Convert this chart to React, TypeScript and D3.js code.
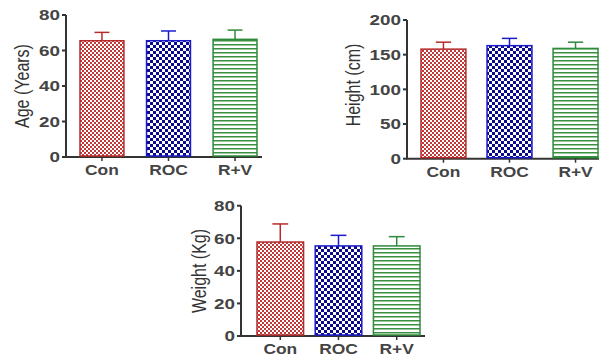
import React from "react";
import * as d3 from "d3";

const categories = ["Con", "ROC", "R+V"];
const ageMeans = [65.5, 65.5, 66.3];
const ageErr = [4.7, 5.5, 5.2];
const heightMeans = [158, 163, 159];
const heightErr = [10, 10.5, 9];
const weightMeans = [57.7, 55.3, 55.3];
const weightErr = [11.1, 6.5, 5.7];
const ageTicks = [0, 20, 40, 60, 80];
const heightTicks = [0, 50, 100, 150, 200];
const weightTicks = [0, 20, 40, 60, 80];

const colors = ["#b52b2b", "#1a1acc", "#2e8b3a"];
const fills = ["url(#patCon)", "url(#patRoc)", "url(#patRv)"];

type PanelProps = {
  x0: number; x1: number; yTop: number; yBot: number; max: number;
  ticks: number[]; means: number[]; errs: number[]; label: string; labelX: number; labelY: number;
  bandStart: number; bandEnd: number; pad: number;
};

function Panel(p: PanelProps) {
  const y = d3.scaleLinear().domain([0, p.max]).range([p.yBot, p.yTop]);
  const x = d3.scaleBand().domain(categories).range([p.bandStart, p.bandEnd]).paddingInner(p.pad).paddingOuter(0);
  const bw = x.bandwidth();
  return (
    <g>
      <line x1={p.x0} x2={p.x0} y1={p.yTop} y2={p.yBot} stroke="#333" strokeWidth={2} />
      <line x1={p.x0 - 1} x2={p.x1} y1={p.yBot} y2={p.yBot} stroke="#333" strokeWidth={2} />
      {p.ticks.map((t) => (
        <g key={t}>
          <line x1={p.x0 - 4} x2={p.x0} y1={y(t)} y2={y(t)} stroke="#333" strokeWidth={2} />
          <text transform={`translate(${p.x0 - 6},${y(t)}) scale(1.3,1)`} dy="0.36em" textAnchor="end" fontSize={14.5} fontWeight="bold" fill="#444">{t}</text>
        </g>
      ))}
      {categories.map((c, i) => {
        const bx = x(c)!;
        const top = y(p.means[i]);
        const et = y(p.means[i] + p.errs[i]);
        const cx = bx + bw / 2;
        return (
          <g key={c}>
            <line x1={cx} x2={cx} y1={top} y2={et} stroke={colors[i]} strokeWidth={1.5} />
            <line x1={cx - bw * 0.17} x2={cx + bw * 0.17} y1={et} y2={et} stroke={colors[i]} strokeWidth={1.5} />
            <rect x={bx} y={top} width={bw} height={p.yBot - 1 - top} fill={fills[i]} stroke={colors[i]} strokeWidth={1.5} />
            <line x1={cx} x2={cx} y1={p.yBot} y2={p.yBot + 4} stroke="#333" strokeWidth={1.5} />
            <text transform={`translate(${cx},${p.yBot + 18}) scale(1.2,1)`} textAnchor="middle" fontSize={14.5} fontWeight="bold" fill="#444">{c}</text>
          </g>
        );
      })}
      <text transform={`translate(${p.labelX},${p.labelY}) scale(1.25,1) rotate(-90)`} textAnchor="middle" fontSize={16} fill="#333">{p.label}</text>
    </g>
  );
}

export default function App() {
  return (
    <svg width={599} height={356} style={{ position: "absolute", left: 0, top: 0, fontFamily: "Liberation Sans, Arial, sans-serif" }}>
      <defs>
        <pattern id="patCon" width={4} height={4} patternUnits="userSpaceOnUse">
          <rect width={4} height={4} fill="#fff" />
          <rect width={2} height={2} fill="#c03838" />
          <rect x={2} y={2} width={2} height={2} fill="#c03838" />
        </pattern>
        <pattern id="patRoc" width={6} height={6} patternUnits="userSpaceOnUse">
          <rect width={6} height={6} fill="#fff" />
          <rect width={3} height={3} fill="#0a0a8a" />
          <rect x={3} y={3} width={3} height={3} fill="#0a0a8a" />
        </pattern>
        <pattern id="patRv" width={4} height={4} patternUnits="userSpaceOnUse">
          <rect width={4} height={4} fill="#fff" />
          <rect y={0} width={4} height={1.5} fill="#3a9040" />
        </pattern>
      </defs>
      <rect width={599} height={356} fill="#fff" />
      <Panel x0={66} x1={262} yTop={15} yBot={157} max={80} ticks={ageTicks} means={ageMeans} errs={ageErr} label="Age (Years)" labelX={29} labelY={86} bandStart={80} bandEnd={257} pad={0.34} />
      <Panel x0={407} x1={599} yTop={20} yBot={158.7} max={200} ticks={heightTicks} means={heightMeans} errs={heightErr} label="Height (cm)" labelX={360} labelY={85} bandStart={421} bandEnd={598} pad={0.32} />
      <Panel x0={241} x1={425} yTop={205.7} yBot={336} max={80} ticks={weightTicks} means={weightMeans} errs={weightErr} label="Weight (Kg)" labelX={206} labelY={271} bandStart={257} bandEnd={420} pad={0.2} />
    </svg>
  );
}
